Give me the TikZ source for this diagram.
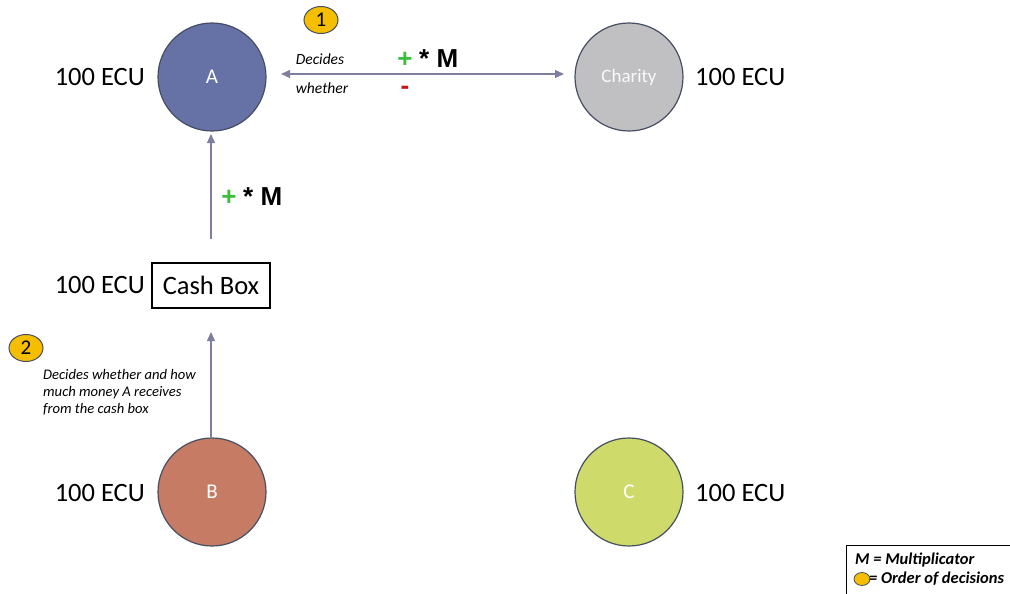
\documentclass[tikz,border=0pt]{standalone}
\usepackage{fontspec}
\setmainfont{Carlito}
\newfontfamily\arialf{Liberation Sans}
\usetikzlibrary{arrows.meta,shapes.geometric}
\definecolor{cA}{RGB}{102,114,166}
\definecolor{cCh}{RGB}{192,192,194}
\definecolor{cB}{RGB}{198,124,100}
\definecolor{cC}{RGB}{206,219,106}
\definecolor{edgec}{RGB}{70,78,100}
\definecolor{arrc}{RGB}{128,126,160}
\definecolor{badge}{RGB}{245,190,0}
\definecolor{plusg}{RGB}{60,190,60}
\definecolor{minusr}{RGB}{200,20,20}
\tikzset{
  person/.style={circle, draw=edgec, line width=1.2pt, minimum size=108pt, inner sep=0pt, text=white, font=\fontsize{21}{23}\selectfont},
  ecu/.style={font=\fontsize{26.5}{30}\selectfont, inner sep=0pt},
  conn/.style={draw=arrc, line width=1.3pt, -{Triangle[length=9pt,width=8pt]}},
  badgesty/.style={ellipse, draw=edgec, line width=1pt, fill=badge, minimum width=34pt, minimum height=27pt, inner sep=0pt, font=\fontsize{21}{22}\selectfont},
  note/.style={font=\itshape\fontsize{15.5}{17}\selectfont, inner sep=0pt},
  mult/.style={font=\arialf\bfseries\fontsize{26}{27}\selectfont, inner sep=0pt},
  legtext/.style={anchor=west, font=\bfseries\itshape\fontsize{16.5}{18}\selectfont, inner sep=0pt}
}
\begin{document}
\begin{tikzpicture}[x=1pt,y=-1pt]
\useasboundingbox (0,0) rectangle (1010,594);
% persons
\node[person, fill=cA] (A) at (212,77) {A};
\node[person, fill=cCh, text=white!95!gray, font=\fontsize{19}{21}\selectfont] (Ch) at (629,77) {Charity};
\node[person, fill=cB] (B) at (212,492) {B};
\node[person, fill=cC] (C) at (629,492) {C};
% ecu labels
\node[ecu, anchor=east] (eA) at (145,77) {100 ECU};
\node[ecu, anchor=west] (eCh) at (695,77) {100 ECU};
\node[ecu, anchor=east] (eB) at (145,493) {100 ECU};
\node[ecu, anchor=west] (eC) at (695,493) {100 ECU};
% cash box
\node[draw=black, line width=2pt, minimum width=118pt, minimum height=45pt, inner sep=0pt, font=\fontsize{26.5}{30}\selectfont] (box) at (211,285) {Cash Box};
\node[ecu, anchor=east] (eBox) at (145,285) {100 ECU};
% arrows
\coordinate (hL) at (281,74);
\coordinate (hR) at (564,74);
\draw[conn, {Triangle[length=9pt,width=8pt]}-{Triangle[length=9pt,width=8pt]}] (hL) -- (hR);
\coordinate (vAbot) at (211,239);
\coordinate (vAtop) at (211,134);
\draw[conn] (vAbot) -- (vAtop);
\coordinate (vBbot) at (211,437);
\coordinate (vBtop) at (211,332);
\draw[conn] (vBbot) -- (vBtop);
% badges
\node[badgesty] (b1) at (321,20) {1};
\node[badgesty] (b2) at (26,348) {2};
% notes
\node[note] (dec) at (320,59) {Decides};
\node[note] (whe) at (322,88) {whether};
\node[mult, text=plusg] (p1) at (405,60) {+};
\node[mult, anchor=west] (m1) at (419,59) {* M};
\node[mult, text=minusr] (m2) at (405,90) {-};
\node[mult, text=plusg] (p2) at (229,198) {+};
\node[mult, anchor=west] (m3) at (243,197) {* M};
\node[note, anchor=north west, align=left, font=\itshape\fontsize{14.6}{17}\selectfont] (bnote) at (43,369) {Decides whether and how\\much money A receives\\from the cash box};
% legend
\draw[black, line width=1pt] (846,600) -- (846,545) -- (1015,545);
\node[legtext] (leg1) at (855,560) {M = Multiplicator};
\node[ellipse, draw=edgec, fill=badge, line width=0.8pt, minimum width=16pt, minimum height=13pt, inner sep=0pt] (legb) at (862,579) {};
\node[legtext] (leg2) at (869,579) {= Order of decisions};
\end{tikzpicture}
\end{document}
